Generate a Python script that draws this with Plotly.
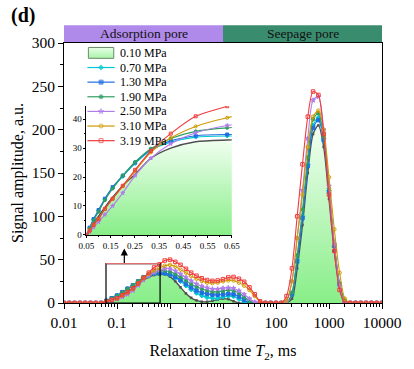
import plotly.graph_objects as go

# ---------------- data ----------------
T2 = [0.01, 0.0126, 0.0158, 0.02, 0.0251, 0.0316, 0.0398, 0.0501, 0.0631, 0.0794,
      0.1, 0.126, 0.158, 0.2, 0.251, 0.316, 0.398, 0.501, 0.631, 0.794,
      1.0, 1.26, 1.58, 2.0, 2.51, 3.16, 3.98, 5.01, 6.31, 7.94,
      10, 12.6, 15.8, 20, 25.1, 31.6, 39.8, 50.1, 63.1, 79.4,
      100, 126, 158, 200, 251, 316, 398, 501, 631, 794,
      1000, 1259, 1585, 1995, 2512, 3162, 3981, 5012, 6310, 7943, 10000]

p010 = [0, 0, 0, 0, 0, 0, 0, 0, 1.8, 4.0,
        6.5, 9.5, 13, 17, 21, 26.5, 30, 32.2, 32.8, 33,
        30.5, 25, 18, 11, 6, 3, 1.5, 1.5, 2.5, 4,
        5, 4.5, 2, 0, 0, 0, 0, 0, 0, 0,
        0, 0, 0, 5, 40, 90, 150, 195, 205, 180,
        120, 60, 18, 0, 0, 0, 0, 0, 0, 0, 0]
p070 = [0, 0, 0, 0, 0, 0, 0, 0, 2.4, 5.3,
        8.4, 12.3, 16.2, 20.2, 24.7, 29.2, 32, 33.8, 34.2, 34,
        32.5, 29, 25, 20, 15.5, 11.5, 8.5, 6.5, 5.5, 5.5,
        7, 8, 7.5, 4.5, 1, 0, 0, 0, 0, 0,
        0, 0, 0, 10, 50, 100, 160, 205, 214, 190,
        130, 65, 20, 0, 0, 0, 0, 0, 0, 0, 0]
p130 = [0, 0, 0, 0, 0, 0, 0, 0, 2.5, 5.5,
        8.6, 12.5, 16.5, 20.5, 25, 29.5, 32.5, 34.3, 34.7, 34.5,
        33, 30, 26.5, 22, 18, 14.5, 12, 10.5, 9.5, 9.5,
        10, 10.5, 10, 7.5, 3.5, 0, 0, 0, 0, 0,
        0, 0, 0, 10, 48, 98, 158, 202, 211, 188,
        128, 66, 22, 2, 0, 0, 0, 0, 0, 0, 0]
p190 = [0, 0, 0, 0, 0, 0, 0, 0, 2.2, 5.0,
        8, 12, 16, 20.5, 25.2, 29.8, 33.3, 35.8, 37, 37.5,
        36, 33.5, 30, 26, 22, 19, 16.5, 14.5, 13, 13,
        14, 15, 14.5, 11.5, 7, 2, 0, 0, 0, 0,
        0, 0, 0, 12, 55, 108, 168, 212, 219, 192,
        132, 68, 22, 3, 0, 0, 0, 0, 0, 0, 0]
p250 = [0, 0, 0, 0, 0, 0, 0, 0, 1.0, 2.6,
        4.5, 7, 10, 14.5, 20.5, 26.5, 31.5, 35.3, 37.8, 39.5,
        39.5, 37, 33.5, 29.5, 25.5, 22, 19.5, 17.5, 16, 16,
        17, 17.5, 17, 14, 10, 5, 1, 0, 0, 0,
        0, 0, 2, 25, 75, 130, 190, 234, 238, 200,
        135, 68, 20, 0, 0, 0, 0, 0, 0, 0, 0]
p310 = [0, 0, 0, 0, 0, 0, 0, 0, 1.5, 3.4,
        5.5, 9, 12.5, 16.8, 22, 28.5, 33.5, 37.5, 40.5, 43,
        44, 42, 38.5, 35, 31, 28, 25.5, 23.5, 23, 23.5,
        25, 26, 26, 23.5, 20, 15, 8, 1.5, 0, 0,
        0, 0, 3, 25, 75, 125, 180, 215, 222, 200,
        145, 85, 35, 5, 0, 0, 0, 0, 0, 0, 0]
p319 = [0, 0, 0, 0, 0, 0, 0, 0, 1.5, 3.5,
        5.5, 9, 12.5, 17, 22.5, 29, 35, 41, 44.5, 49,
        50, 47.5, 44, 39.5, 35, 31.5, 28.5, 26.5, 25.5, 26,
        27.5, 29.5, 30, 28, 24.5, 18, 10, 2, 0, 0,
        0, 0, 8, 40, 100, 160, 215, 244, 240, 195,
        125, 60, 15, 0, 0, 0, 0, 0, 0, 0, 0]

labels = ["0.10 MPa", "0.70 MPa", "1.30 MPa", "1.90 MPa", "2.50 MPa", "3.10 MPa", "3.19 MPa"]
series = [p010, p070, p130, p190, p250, p310, p319]
x_tickvals = [0.01, 0.1, 1, 10, 100, 1000, 10000]
x_ticktext = ["0.01", "0.1", "1", "10", "100", "1000", "10000"]
inset_ticks = [0.05, 0.15, 0.25, 0.35, 0.45, 0.55, 0.65]
regions = ["Adsorption pore", "Seepage pore"]

# ---------------- style ----------------
colors = ["#505050", "#00C8D2", "#1F6FE0", "#2E9E62", "#B07EEB", "#D09A00", "#F03C3C"]
symbols = ["square", "diamond", "square", "circle", "star", "circle-open", "square-open"]
FONT = "Liberation Serif"
fill_scale = [[0, "#86EE86"], [1, "#F4FFF4"]]

# plot area in pixels (used by the hand-drawn legend overlay)
L, R, T, B = 64, 390, 43, 306

fig = go.Figure()

for i, (lab, ys) in enumerate(zip(labels, series)):
    for inset in (False, True):
        kw = dict(x=T2, y=ys, name=lab, showlegend=False,
                  xaxis="x2" if inset else "x", yaxis="y2" if inset else "y",
                  line=dict(color=colors[i], width=1.1 if i else 1.4, shape="spline", smoothing=0.8),
                  hoverinfo="skip")
        if i == 0:
            kw.update(fill="tozeroy",
                      fillgradient=dict(type="vertical", colorscale=fill_scale,
                                        start=0, stop=(34 if inset else 210)))
            kw.update(mode="lines" if inset else "lines+markers",
                      marker=dict(symbol="square", size=2.5, color=colors[0]))
        else:
            kw.update(mode="lines+markers",
                      marker=dict(symbol=symbols[i], size=3.5 if not inset else 3,
                                  color=colors[i], line=dict(color=colors[i], width=1)))
        fig.add_trace(go.Scatter(**kw))

# ---------------- hand-built legend (tighter row spacing than plotly's legend) ----------------
row0, gap = 53, 14.8
for i, lab in enumerate(labels):
    yc = row0 + gap * i
    if i == 0:
        fig.add_trace(go.Scatter(x=[89, 115, 115, 89, 89], y=[47.5, 47.5, 58.5, 58.5, 47.5],
                                 xaxis="x3", yaxis="y3", mode="lines", fill="toself",
                                 fillgradient=dict(type="vertical",
                                                   colorscale=[[0, "#A8F2A8"], [1, "#E6FFE6"]],
                                                   start=58.5, stop=47.5),
                                 line=dict(color="#6A8A6A", width=1), showlegend=False,
                                 hoverinfo="skip"))
    else:
        fig.add_trace(go.Scatter(x=[88, 102, 116], y=[yc, yc, yc], xaxis="x3", yaxis="y3",
                                 mode="lines+markers",
                                 line=dict(color=colors[i], width=1.2),
                                 marker=dict(symbol=symbols[i], size=[0, 4, 0], color=colors[i],
                                             line=dict(color=colors[i], width=1)),
                                 showlegend=False, hoverinfo="skip"))
    fig.add_annotation(x=119, y=yc, xref="x3", yref="y3", text=lab, showarrow=False,
                       xanchor="left", yanchor="middle",
                       font=dict(size=12, family=FONT, color="black"))

axis_common = dict(showline=True, linecolor="black", linewidth=1, showgrid=False,
                   zeroline=False, ticks="outside", tickcolor="black")

fig.update_layout(
    width=414, height=369,
    margin=dict(l=L, r=414 - R, t=T, b=369 - B),
    paper_bgcolor="white", plot_bgcolor="rgba(0,0,0,0)",
    font=dict(family=FONT, size=16, color="black"),
    showlegend=False,
    xaxis=dict(type="log", range=[-2, 4], tickvals=x_tickvals, ticktext=x_ticktext,
               ticklen=5, mirror=True,
               minor=dict(ticks="outside", ticklen=3, dtick="D1", tickcolor="black"),
               title=dict(text="Relaxation time <i>T</i><sub>2</sub>, ms", font=dict(size=16)),
               tickfont=dict(size=15.5), **axis_common),
    yaxis=dict(range=[0, 300], dtick=50, ticklen=5, mirror=True,
               minor=dict(ticks="outside", ticklen=3, dtick=25, tickcolor="black"),
               title=dict(text="Signal amplitude, a.u.", font=dict(size=16), standoff=4),
               tickfont=dict(size=15.5), **axis_common),
    xaxis2=dict(domain=[0.0706, 0.5276], anchor="y2", range=[0.05, 0.65],
                tickvals=inset_ticks, ticklen=2, tickfont=dict(size=9),
                minor=dict(ticks="outside", ticklen=1.5, dtick=0.05, tickcolor="black"),
                **axis_common),
    yaxis2=dict(domain=[0.262, 0.757], anchor="x2", range=[0, 44.5], dtick=10, ticklen=2,
                tickfont=dict(size=9),
                minor=dict(ticks="outside", ticklen=1.5, dtick=5, tickcolor="black"),
                **axis_common),
    xaxis3=dict(domain=[0, 1], anchor="y3", range=[L, R], visible=False, fixedrange=True),
    yaxis3=dict(domain=[0, 1], anchor="x3", range=[B, T], visible=False, fixedrange=True),
)

# region bands above plot
fig.add_shape(type="rect", xref="paper", yref="paper", x0=0, x1=0.5, y0=1.004, y1=1.068,
              fillcolor="#B08AEA", line=dict(width=0), layer="above")
fig.add_shape(type="rect", xref="paper", yref="paper", x0=0.5, x1=1, y0=1.004, y1=1.068,
              fillcolor="#3A8C6E", line=dict(width=0), layer="above")
for xc, txt in zip([0.25, 0.75], regions):
    fig.add_annotation(x=xc, y=1.036, xref="paper", yref="paper", text=txt, showarrow=False,
                       xanchor="center", yanchor="middle",
                       font=dict(size=13.5, family=FONT, color="#111111"))

# zoom rectangle and arrow
fig.add_shape(type="rect", xref="x", yref="y", x0=0.062, x1=0.65, y0=0, y1=45.5,
              line=dict(color="black", width=1.2))
fig.add_shape(type="line", xref="x", yref="y", x0=0.062, x1=0.65, y0=45.5, y1=45.5,
              line=dict(color="#E07070", width=1.2))
fig.add_annotation(x=-0.862, y=63, xref="x", yref="y", ax=0, ay=16, text="",
                   showarrow=True, arrowhead=2, arrowsize=1.2, arrowwidth=1.2, arrowcolor="black")

# panel label
fig.add_annotation(x=-0.172, y=1.106, xref="paper", yref="paper", text="<b>(d)</b>",
                   showarrow=False, xanchor="left", yanchor="middle",
                   font=dict(size=20, family=FONT, color="black"))

# remove the browser's default 8px body margin so the figure sits at the window origin
fig.write_html("out.html", config={"displayModeBar": False},
               post_script="document.body.style.margin='0';")
